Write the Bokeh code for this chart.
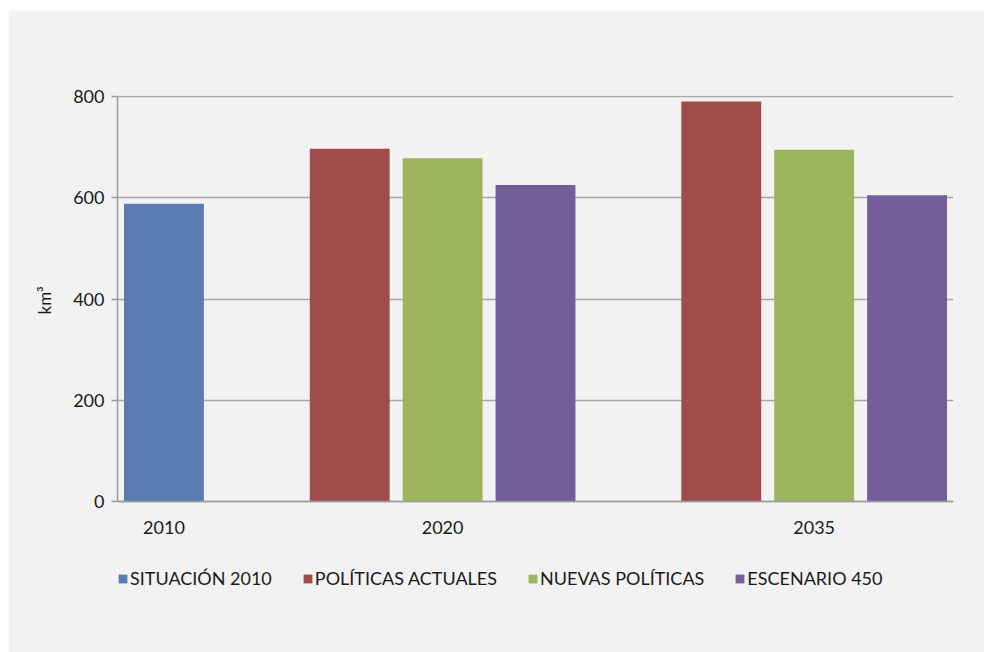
from bokeh.plotting import figure
from bokeh.models import Range1d, FixedTicker, Legend, LegendItem, ColumnDataSource, Span, Title
from bokeh.embed import file_html
from bokeh.resources import INLINE

categories = ["2010", "2020", "2035"]
series_names = ["SITUACIÓN 2010", "POLÍTICAS ACTUALES", "NUEVAS POLÍTICAS", "ESCENARIO 450"]
situacion_2010 = [588, None, None]
politicas_actuales = [None, 697, 790]
nuevas_politicas = [None, 678, 695]
escenario_450 = [None, 625, 605]
y_ticks = [0, 200, 400, 600, 800]

series_values = [situacion_2010, politicas_actuales, nuevas_politicas, escenario_450]
colors = ["#5b7bb3", "#a04c4a", "#9db35d", "#735e99"]
FONT = "Lato"
AXIS_COLOR = "#9a9a9a"

# slot layout: present bars consecutive within a category, one empty slot between categories
slot_x = {i: [] for i in range(len(series_values))}
slot_v = {i: [] for i in range(len(series_values))}
label_pos = []
slot = 0
for ci, cat in enumerate(categories):
    pos = []
    for si, vals in enumerate(series_values):
        if vals[ci] is not None:
            slot_x[si].append(slot + 0.5)
            slot_v[si].append(vals[ci])
            pos.append(slot + 0.5)
            slot += 1
    label_pos.append(sum(pos) / len(pos))
    if ci < len(categories) - 1:
        slot += 1
n_slots = slot

# frame extends below the zero line to leave room for labels and legend
p = figure(width=976, height=642, output_backend="svg", toolbar_location=None,
           x_range=Range1d(0, n_slots), y_range=Range1d(-235, 802),
           x_axis_type=None,
           min_border_left=109, min_border_right=31, min_border_top=85, min_border_bottom=32,
           background_fill_color="#f2f2f2", border_fill_color="#f2f2f2",
           styles={"margin-left": "8px", "margin-top": "10px"})
p.outline_line_color = None

items = []
for si, name in enumerate(series_names):
    src = ColumnDataSource(dict(x=slot_x[si], top=slot_v[si]))
    r = p.vbar(x="x", top="top", width=0.86, bottom=0, source=src,
               fill_color=colors[si], line_color=None)
    items.append(LegendItem(label=name, renderers=[r]))

p.ygrid.grid_line_color = "#a6a6a6"
p.ygrid.grid_line_width = 1.5
p.ygrid.ticker = FixedTicker(ticks=y_ticks)

p.yaxis.ticker = FixedTicker(ticks=y_ticks)
p.yaxis.bounds = (min(y_ticks), max(y_ticks))
p.yaxis.axis_line_color = AXIS_COLOR
p.yaxis.axis_line_width = 1.5
p.yaxis.major_tick_line_color = AXIS_COLOR
p.yaxis.major_tick_line_width = 1.5
p.yaxis.major_tick_out = 6
p.yaxis.major_tick_in = 0
p.yaxis.minor_tick_line_color = None
p.yaxis.major_label_text_font = FONT
p.yaxis.major_label_text_font_size = "18px"
p.yaxis.major_label_text_color = "#1a1a1a"
p.yaxis.major_label_standoff = 7

# y-axis title, positioned along the 0..800 part of the axis
p.add_layout(Title(text="km³", align="left", offset=306, standoff=32,
                   text_font=FONT, text_font_size="17px", text_font_style="normal",
                   text_color="#1a1a1a"), "left")

# category axis line and labels at y = 0
p.add_layout(Span(location=0, dimension="width", line_color=AXIS_COLOR, line_width=1.5))
p.text(x=label_pos, y=[0] * len(label_pos), text=categories, text_align="center",
       text_baseline="top", y_offset=19, text_font_size="18px", text_color="#1a1a1a",
       text_font={"value": FONT})

legend = Legend(items=items, orientation="horizontal", location=(0, 31),
                glyph_width=11, glyph_height=11, label_standoff=2, spacing=30,
                padding=0, margin=0, background_fill_alpha=0, border_line_color=None,
                label_text_font=FONT, label_text_font_size="18px", label_text_color="#1a1a1a")
p.add_layout(legend, "center")

open("out.html", "w").write(file_html(p, INLINE))
